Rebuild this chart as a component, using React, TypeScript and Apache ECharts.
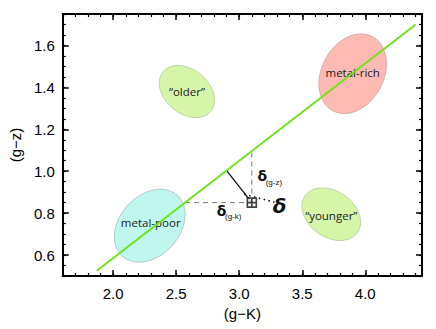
import React, { useEffect, useRef } from 'react';
import * as echarts from 'echarts';

// ---- data ----
const xRange = [1.6, 4.45];
const yRange = [0.5, 1.75];
const xMajorTicks = [2.0, 2.5, 3.0, 3.5, 4.0];
const yMajorTicks = [0.6, 0.8, 1.0, 1.2, 1.4, 1.6];

const regionNames = ['metal-poor', 'metal-rich', '\u201Colder\u201D', '\u201Cyounger\u201D'];
const regionX = [2.29, 3.9, 2.585, 3.73];
const regionY = [0.74, 1.465, 1.38, 0.795];

const sequenceX = [1.87, 4.4];
const sequenceY = [0.525, 1.7];

const starX = [3.1];
const starY = [0.85];

const horizX = [2.57, 3.1];
const horizY = [0.85, 0.85];
const vertX = [3.1, 3.1];
const vertY = [0.85, 1.096];
const perpX = [2.9, 3.1];
const perpY = [1.003, 0.85];
const dotX = [3.04, 3.28];
const dotY = [0.89, 0.852];

const noteTexts = ['\u03B4', '(g-z)', '\u03B4', '(g-k)', '\u03B4'];
const noteX = [3.183, 3.21, 2.859, 2.887, 3.32];
const noteY = [0.976, 0.947, 0.81, 0.784, 0.833];

// ---- styles ----
const regionShapes = [
  { a: 41, b: 30, rot: 48, fill: '#bff7ef', stroke: '#a9bcb9', dx: 1, dy: -3 },
  { a: 42, b: 31, rot: 62, fill: '#ffbab3', stroke: '#c9a3a0', dx: 0, dy: -1 },
  { a: 31, b: 22, rot: -40, fill: '#d6f5a9', stroke: '#b3c9a0', dx: 0, dy: 0 },
  { a: 32, b: 23, rot: -35, fill: '#d6f5a9', stroke: '#b3c9a0', dx: 0, dy: 1 },
];
const noteStyles = [
  { font: 'bold 14px "DejaVu Sans"', align: 'center' },
  { font: '8px "Liberation Sans"', align: 'left' },
  { font: 'bold 14px "DejaVu Sans"', align: 'center' },
  { font: '8px "Liberation Sans"', align: 'left' },
  { font: 'oblique bold 20px "DejaVu Sans"', align: 'center' },
];

const FONT = '"Liberation Sans", Arial, sans-serif';

function pairs(xs: number[], ys: number[]) {
  return xs.map((x, i) => [x, ys[i]]);
}

export default function App() {
  const ref = useRef<HTMLDivElement>(null);
  useEffect(() => {
    if (!ref.current) return;
    const chart = echarts.init(ref.current, undefined, { renderer: 'svg' });
    const line = { show: true, onZero: false, lineStyle: { color: '#000', width: 2 } };
    const majorTick = { show: true, inside: true, length: 6, lineStyle: { color: '#000', width: 1.5 } };
    const minorTick = { show: true, inside: true, length: 3, lineStyle: { color: '#000', width: 1.2 } };
    const base = { type: 'value', axisLine: line, splitLine: { show: false } };
    const labelStyle = { color: '#000', fontSize: 15, fontFamily: FONT };
    const xBase = { ...base, min: xRange[0], max: xRange[1] };
    const yBase = { ...base, min: yRange[0], max: yRange[1] };
    const option: any = {
      animation: false,
      grid: { left: 60, right: 14, top: 14, bottom: 53, containLabel: false },
      xAxis: [
        {
          ...xBase, position: 'bottom',
          axisTick: { ...majorTick, customValues: xMajorTicks },
          axisLabel: { ...labelStyle, customValues: xMajorTicks, margin: 10, formatter: (v: number) => v.toFixed(1) },
          name: '(g\u2212K)', nameLocation: 'middle', nameGap: 28,
          nameTextStyle: { ...labelStyle },
        },
        { ...xBase, position: 'bottom', interval: 0.1, axisTick: minorTick, axisLabel: { show: false } },
        { ...xBase, position: 'top', axisTick: { ...majorTick, customValues: xMajorTicks }, axisLabel: { show: false } },
        { ...xBase, position: 'top', interval: 0.1, axisTick: minorTick, axisLabel: { show: false } },
      ],
      yAxis: [
        {
          ...yBase, position: 'left',
          axisTick: { ...majorTick, customValues: yMajorTicks },
          axisLabel: { ...labelStyle, customValues: yMajorTicks, margin: 8, formatter: (v: number) => v.toFixed(1) },
          name: '(g\u2212z)', nameLocation: 'middle', nameGap: 38,
          nameTextStyle: { ...labelStyle },
        },
        { ...yBase, position: 'left', interval: 0.05, axisTick: minorTick, axisLabel: { show: false } },
        { ...yBase, position: 'right', axisTick: { ...majorTick, customValues: yMajorTicks }, axisLabel: { show: false } },
        { ...yBase, position: 'right', interval: 0.05, axisTick: minorTick, axisLabel: { show: false } },
      ],
      series: [
        {
          type: 'custom',
          z: 1,
          data: pairs(regionX, regionY),
          renderItem: (params: any, api: any) => {
            const i = params.dataIndex;
            const c = api.coord([api.value(0), api.value(1)]);
            const s = regionShapes[i];
            const th = (s.rot * Math.PI) / 180;
            const pts: number[][] = [];
            for (let k = 0; k < 90; k++) {
              const t = (k / 90) * Math.PI * 2;
              const ex = s.a * Math.cos(t);
              const ey = s.b * Math.sin(t);
              pts.push([
                c[0] + ex * Math.cos(th) - ey * Math.sin(th),
                c[1] - (ex * Math.sin(th) + ey * Math.cos(th)),
              ]);
            }
            return {
              type: 'group',
              children: [
                { type: 'polygon', shape: { points: pts }, style: { fill: s.fill, stroke: s.stroke, lineWidth: 0.8 } },
                {
                  type: 'text', x: c[0] + s.dx, y: c[1] + s.dy,
                  style: { text: regionNames[i], fill: '#222', font: '11.5px "Open Sans"', align: 'center', verticalAlign: 'middle' },
                },
              ],
            };
          },
        },
        {
          type: 'line', z: 3, data: pairs(sequenceX, sequenceY), symbol: 'none',
          lineStyle: { color: '#6fe41a', width: 2 },
        },
        {
          type: 'line', z: 2, data: pairs(horizX, horizY), symbol: 'none',
          lineStyle: { color: '#777', width: 1, type: [5, 4] },
        },
        {
          type: 'line', z: 2, data: pairs(vertX, vertY), symbol: 'none',
          lineStyle: { color: '#777', width: 1, type: [5, 4] },
        },
        {
          type: 'line', z: 2, data: pairs(perpX, perpY), symbol: 'none',
          lineStyle: { color: '#111', width: 1.3 },
        },
        {
          type: 'line', z: 2, data: pairs(dotX, dotY), symbol: 'none',
          lineStyle: { color: '#111', width: 1.6, type: [1.5, 3.5] },
        },
        {
          type: 'scatter', z: 5, data: pairs(starX, starY),
          symbol: 'path://M0,0H10V10H0Z M5,0V10 M0,5H10', symbolSize: 9,
          itemStyle: { color: '#fff', borderColor: '#111', borderWidth: 1.6 },
        },
        {
          type: 'custom', z: 6,
          data: pairs(noteX, noteY),
          renderItem: (params: any, api: any) => {
            const i = params.dataIndex;
            const c = api.coord([api.value(0), api.value(1)]);
            const st = noteStyles[i];
            return {
              type: 'text', x: c[0], y: c[1],
              style: { text: noteTexts[i], fill: '#111', font: st.font, align: st.align, verticalAlign: 'middle' },
            };
          },
        },
      ],
    };
    chart.setOption(option);
    return () => chart.dispose();
  }, []);
  return <div ref={ref} style={{ position: 'fixed', left: 0, top: 0, width: 436, height: 329, background: '#fff' }} />;
}
